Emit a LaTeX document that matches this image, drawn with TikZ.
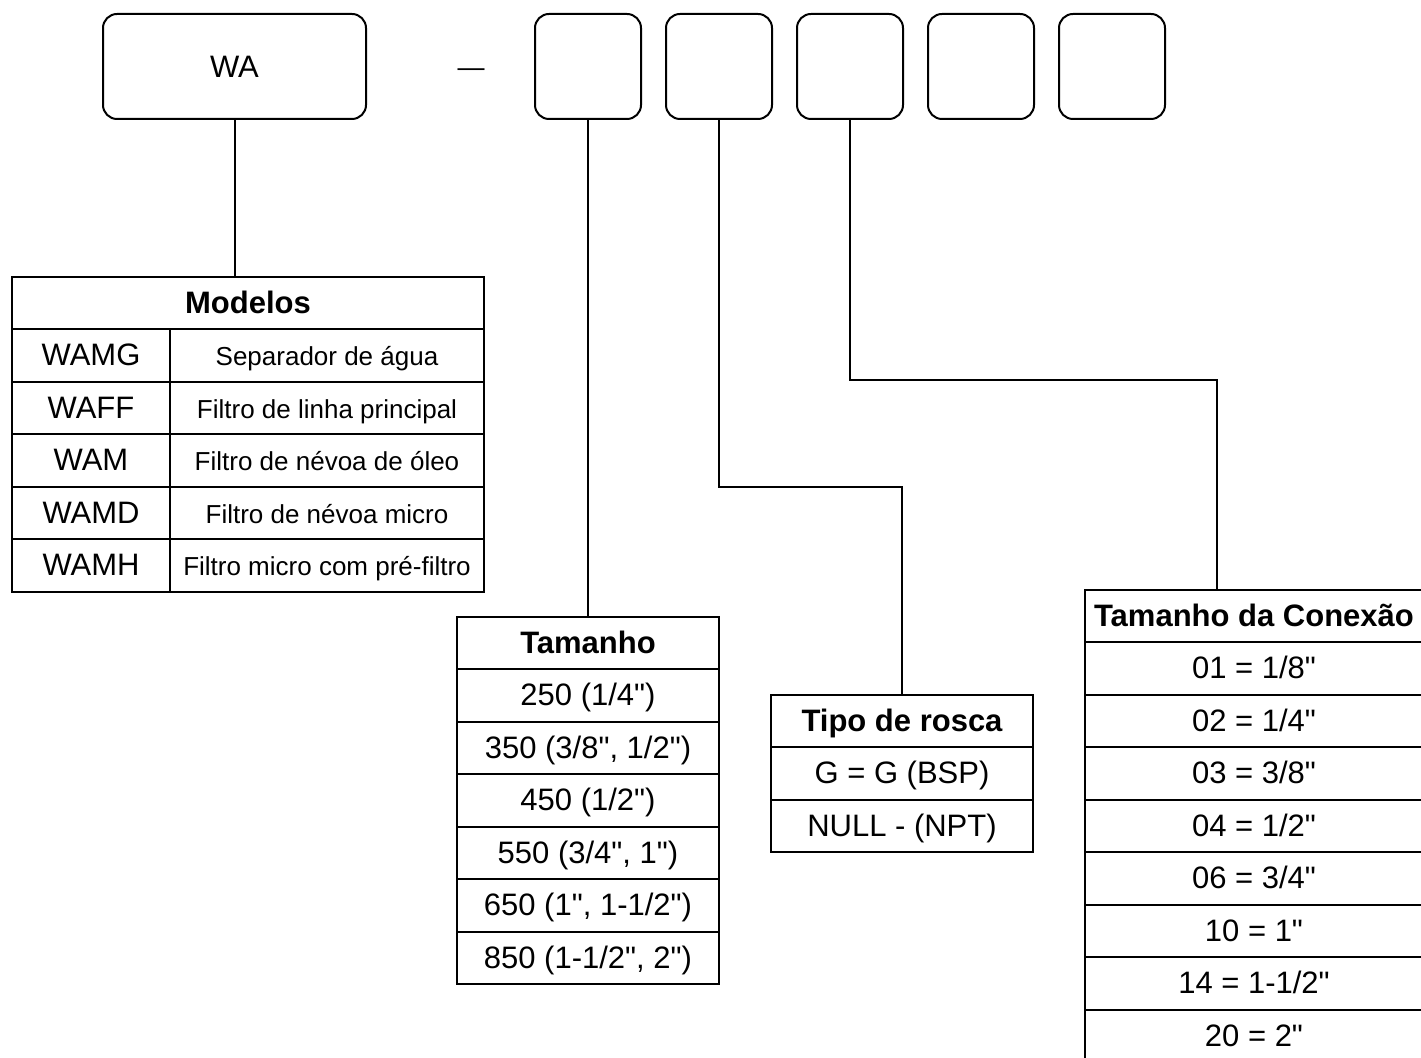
\documentclass[tikz,border=0pt]{standalone}
\usepackage{fontspec}
\setmainfont{Liberation Sans}[Ligatures=TeXOff]
\newcommand{\maintxt}{\fontsize{15.5}{18}\selectfont}
\newcommand{\desctxt}{\fontsize{13}{16}\selectfont}

\begin{document}
\begin{tikzpicture}[x=0.5pt,y=-0.5pt,line width=1pt,
    codebox/.style={draw,rounded corners=7pt,minimum width=53pt,minimum height=52.5pt,inner sep=0pt},
    cell/.style={draw,inner sep=0pt,minimum height=26.25pt,text height=11pt,text depth=1pt,font=\maintxt},
    head/.style={cell,font=\maintxt\bfseries}]
            \useasboundingbox (0,0) rectangle (1421,1058);
            \clip (0,0) rectangle (1421,1058);

            % code boxes
            \node[codebox,minimum width=131.5pt,font=\maintxt] (wa) at (234.5,66.5) {WA};
            \node[font=\fontsize{13.5}{16}\selectfont] (dash) at (471,73) {—};
            \node[codebox] (b1) at (588,66.5) {};
            \node[codebox] (b2) at (719,66.5) {};
            \node[codebox] (b3) at (850,66.5) {};
            \node[codebox] (b4) at (981,66.5) {};
            \node[codebox] (b5) at (1112,66.5) {};

            % Modelos
            \node[head,minimum width=236pt] (mod) at (248,303.25) {Modelos};
            \node[cell,minimum width=79pt] (m1) at (91,355.75) {WAMG};
            \node[cell,minimum width=79pt] (m2) at (91,408.25) {WAFF};
            \node[cell,minimum width=79pt] (m3) at (91,460.75) {WAM};
            \node[cell,minimum width=79pt] (m4) at (91,513.25) {WAMD};
            \node[cell,minimum width=79pt] (m5) at (91,565.75) {WAMH};
            \node[cell,minimum width=157pt,font=\desctxt] (d1) at (327,355.75) {Separador de água};
            \node[cell,minimum width=157pt,font=\desctxt] (d2) at (327,408.25) {Filtro de linha principal};
            \node[cell,minimum width=157pt,font=\desctxt] (d3) at (327,460.75) {Filtro de névoa de óleo};
            \node[cell,minimum width=157pt,font=\desctxt] (d4) at (327,513.25) {Filtro de névoa micro};
            \node[cell,minimum width=157pt,font=\desctxt] (d5) at (327,565.75) {Filtro micro com pré-filtro};

            % Tamanho
            \node[head,minimum width=131pt] (tam) at (588,643.25) {Tamanho};
            \node[cell,minimum width=131pt] (t1) at (588,695.75) {250 (1/4")};
            \node[cell,minimum width=131pt] (t2) at (588,748.25) {350 (3/8", 1/2")};
            \node[cell,minimum width=131pt] (t3) at (588,800.75) {450 (1/2")};
            \node[cell,minimum width=131pt] (t4) at (588,853.25) {550 (3/4", 1")};
            \node[cell,minimum width=131pt] (t5) at (588,905.75) {650 (1", 1-1/2")};
            \node[cell,minimum width=131pt] (t6) at (588,958.25) {850 (1-1/2", 2")};

            % Tipo de rosca
            \node[head,minimum width=131pt] (ros) at (902,721.25) {Tipo de rosca};
            \node[cell,minimum width=131pt] (r1) at (902,773.75) {G = G (BSP)};
            \node[cell,minimum width=131pt] (r2) at (902,826.25) {NULL - (NPT)};

            % Tamanho da Conexao
            \node[head,minimum width=169pt] (con) at (1254,616.25) {Tamanho da Conexão};
            \node[cell,minimum width=169pt] (c1) at (1254,668.75) {01 = 1/8"};
            \node[cell,minimum width=169pt] (c2) at (1254,721.25) {02 = 1/4"};
            \node[cell,minimum width=169pt] (c3) at (1254,773.75) {03 = 3/8"};
            \node[cell,minimum width=169pt] (c4) at (1254,826.25) {04 = 1/2"};
            \node[cell,minimum width=169pt] (c5) at (1254,878.75) {06 = 3/4"};
            \node[cell,minimum width=169pt] (c6) at (1254,931.25) {10 = 1"};
            \node[cell,minimum width=169pt] (c7) at (1254,983.75) {14 = 1-1/2"};
            \node[cell,minimum width=169pt] (c8) at (1254,1036.25) {20 = 2"};

            % connectors
            \draw (wa.south) -- (wa.south |- mod.north);
            \draw (b1.south) -- (tam.north);
            \draw (b2.south) -- ++(0,367) -| (ros.north);
            \coordinate (kc) at (1217,380);
            \draw (b3.south) |- (kc) -- (kc |- con.north);
        \end{tikzpicture}
\end{document}
